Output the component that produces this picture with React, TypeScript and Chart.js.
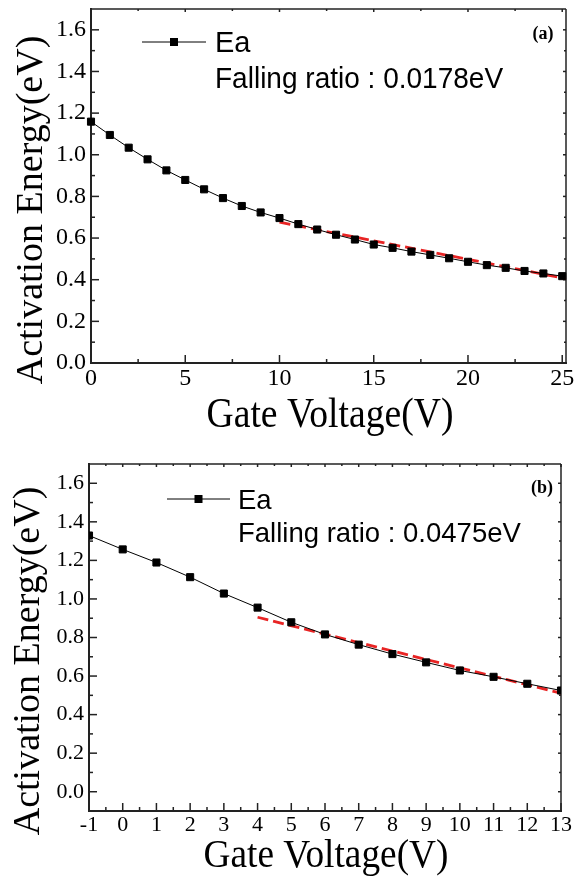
import { useEffect, useRef } from 'react';
import { Chart, registerables } from 'chart.js';

Chart.register(...registerables);

// Panel (a): activation energy vs gate voltage, 0–25 V
const voltageA = [0, 1, 2, 3, 4, 5, 6, 7, 8, 9, 10, 11, 12, 13, 14, 15, 16, 17, 18, 19, 20, 21, 22, 23, 24, 25];
const energyA = [1.159, 1.095, 1.034, 0.978, 0.925, 0.879, 0.834, 0.792, 0.754, 0.723, 0.696, 0.667, 0.641, 0.616, 0.593, 0.569, 0.553, 0.535, 0.519, 0.503, 0.486, 0.47, 0.457, 0.442, 0.43, 0.417];
const fitVoltageA = [10, 25.2];
const fitEnergyA = [0.676, 0.405];

// Panel (b): activation energy vs gate voltage, -1–13 V
const voltageB = [-1, 0, 1, 2, 3, 4, 5, 6, 7, 8, 9, 10, 11, 12, 13];
const energyB = [1.329, 1.257, 1.189, 1.113, 1.028, 0.955, 0.879, 0.816, 0.763, 0.714, 0.671, 0.629, 0.596, 0.56, 0.525];
const fitVoltageB = [4, 13];
const fitEnergyB = [0.905, 0.511];

// Axis ticks
const energyTicks = [0, 0.2, 0.4, 0.6, 0.8, 1.0, 1.2, 1.4, 1.6];
const energyMinorTicks = [0.1, 0.3, 0.5, 0.7, 0.9, 1.1, 1.3, 1.5];
const voltageTicksA = [0, 5, 10, 15, 20, 25];
const voltageMinorTicksA = [2.5, 7.5, 12.5, 17.5, 22.5];
const voltageTicksB = [-1, 0, 1, 2, 3, 4, 5, 6, 7, 8, 9, 10, 11, 12, 13];
const voltageMinorTicksB = [-0.5, 0.5, 1.5, 2.5, 3.5, 4.5, 5.5, 6.5, 7.5, 8.5, 9.5, 10.5, 11.5, 12.5];

// Text
const seriesName = 'Ea';
const ratioTextA = 'Falling ratio : 0.0178eV';
const ratioTextB = 'Falling ratio : 0.0475eV';
const xTitle = 'Gate Voltage(V)';
const yTitle = 'Activation Energy(eV)';

type PanelCfg = {
  tag: string;
  ratioText: string;
  xs: number[];
  ys: number[];
  fitX: number[];
  fitY: number[];
  xMin: number;
  xMax: number;
  yMin: number;
  yMax: number;
  xTicks: number[];
  xMinor: number[];
  height: number;
  plot: { left: number; right: number; top: number; bottom: number };
  tickFont: number;
  clipPoints: boolean;
  legend: { lineX0: number; lineX1: number; lineY: number; textX: number; base1: number; base2: number; font: number; squeeze: number };
  tagPos: { x: number; y: number };
  yTitlePos: { x: number; y: number; font: number };
  xTitlePos: { x: number; y: number; font: number; squeeze: number };
};

const panels: PanelCfg[] = [
  {
    tag: '(a)',
    ratioText: ratioTextA,
    xs: voltageA,
    ys: energyA,
    fitX: fitVoltageA,
    fitY: fitEnergyA,
    xMin: 0,
    xMax: 25.2,
    yMin: 0,
    yMax: 1.7,
    xTicks: voltageTicksA,
    xMinor: voltageMinorTicksA,
    height: 440,
    plot: { left: 91, right: 566, top: 9, bottom: 363 },
    tickFont: 24,
    clipPoints: false,
    legend: { lineX0: 142, lineX1: 206, lineY: 42, textX: 215, base1: 52, base2: 88, font: 29, squeeze: 0.966 },
    tagPos: { x: 543, y: 34 },
    yTitlePos: { x: 42, y: 210, font: 38 },
    xTitlePos: { x: 330, y: 427, font: 43, squeeze: 0.875 },
  },
  {
    tag: '(b)',
    ratioText: ratioTextB,
    xs: voltageB,
    ys: energyB,
    fitX: fitVoltageB,
    fitY: fitEnergyB,
    xMin: -1,
    xMax: 13,
    yMin: -0.1,
    yMax: 1.7,
    xTicks: voltageTicksB,
    xMinor: voltageMinorTicksB,
    height: 445,
    plot: { left: 89, right: 561, top: 24, bottom: 371 },
    tickFont: 22,
    clipPoints: true,
    legend: { lineX0: 167, lineX1: 230, lineY: 59, textX: 238, base1: 69, base2: 102, font: 27.5, squeeze: 1 },
    tagPos: { x: 542, y: 48 },
    yTitlePos: { x: 39, y: 221, font: 38 },
    xTitlePos: { x: 326, y: 427, font: 41, squeeze: 0.91 },
  },
];

const AXIS = '#222';

function makeDecor(cfg: PanelCfg) {
  return {
    id: 'panelDecor',
    beforeDatasetsDraw(chart: any) {
      const { ctx, chartArea: a, scales } = chart;
      const xs = scales.x;
      const ys = scales.y;
      ctx.save();
      ctx.strokeStyle = AXIS;
      ctx.lineWidth = 1.5;
      const seg = (x1: number, y1: number, x2: number, y2: number) => {
        ctx.beginPath();
        ctx.moveTo(x1, y1);
        ctx.lineTo(x2, y2);
        ctx.stroke();
      };
      cfg.xTicks.forEach((v) => {
        const px = xs.getPixelForValue(v);
        seg(px, a.bottom, px, a.bottom - 8);
        seg(px, a.top, px, a.top + 3);
      });
      cfg.xMinor.forEach((v) => {
        const px = xs.getPixelForValue(v);
        seg(px, a.bottom, px, a.bottom - 4);
        seg(px, a.top, px, a.top + 2);
      });
      energyTicks.forEach((v) => {
        const py = ys.getPixelForValue(v);
        seg(a.left, py, a.left + 8, py);
        seg(a.right, py, a.right - 3, py);
      });
      energyMinorTicks.forEach((v) => {
        const py = ys.getPixelForValue(v);
        seg(a.left, py, a.left + 4, py);
        seg(a.right, py, a.right - 2, py);
      });
      // frame
      ctx.lineWidth = 1.5;
      seg(a.left, a.top, a.right, a.top);
      seg(a.right, a.top, a.right, a.bottom);
      ctx.lineWidth = 2;
      seg(a.left, a.top - 1, a.left, a.bottom + 1);
      seg(a.left - 1, a.bottom, a.right + 1, a.bottom);
      ctx.restore();
    },
    afterDraw(chart: any) {
      const { ctx } = chart;
      const L = cfg.legend;
      ctx.save();
      // legend sample
      ctx.strokeStyle = '#000';
      ctx.lineWidth = 1;
      ctx.beginPath();
      ctx.moveTo(L.lineX0, L.lineY);
      ctx.lineTo(L.lineX1, L.lineY);
      ctx.stroke();
      ctx.fillStyle = '#000';
      const mx = (L.lineX0 + L.lineX1) / 2;
      ctx.fillRect(mx - 4, L.lineY - 4, 8, 8);
      ctx.font = `${L.font}px "Liberation Sans", Arial, sans-serif`;
      ctx.textAlign = 'left';
      ctx.textBaseline = 'alphabetic';
      ctx.fillText(seriesName, L.textX, L.base1);
      ctx.save();
      ctx.translate(L.textX, L.base2);
      ctx.scale(L.squeeze, 1);
      ctx.fillText(cfg.ratioText, 0, 0);
      ctx.restore();
      // panel tag
      ctx.font = 'bold 18px "Liberation Serif", "Times New Roman", serif';
      ctx.textAlign = 'center';
      ctx.textBaseline = 'middle';
      ctx.fillText(cfg.tag, cfg.tagPos.x, cfg.tagPos.y);
      // axis titles
      ctx.textBaseline = 'alphabetic';
      ctx.save();
      ctx.translate(cfg.yTitlePos.x, cfg.yTitlePos.y);
      ctx.rotate(-Math.PI / 2);
      ctx.font = `${cfg.yTitlePos.font}px "Liberation Serif", "Times New Roman", serif`;
      ctx.fillText(yTitle, 0, 0);
      ctx.restore();
      ctx.save();
      ctx.translate(cfg.xTitlePos.x, cfg.xTitlePos.y);
      ctx.scale(cfg.xTitlePos.squeeze, 1);
      ctx.font = `${cfg.xTitlePos.font}px "Liberation Serif", "Times New Roman", serif`;
      ctx.fillText(xTitle, 0, 0);
      ctx.restore();
      ctx.restore();
    },
  };
}

function Panel({ cfg, top }: { cfg: PanelCfg; top: number }) {
  const ref = useRef<HTMLCanvasElement | null>(null);

  useEffect(() => {
    if (!ref.current) return;
    const tickFont = { family: '"Liberation Serif", "Times New Roman", serif', size: cfg.tickFont };
    const chart = new Chart(ref.current, {
      type: 'line',
      data: {
        datasets: [
          {
            label: seriesName,
            data: cfg.xs.map((x, i) => ({ x, y: cfg.ys[i] })),
            borderColor: '#000',
            borderWidth: 1,
            backgroundColor: '#000',
            pointStyle: 'rect',
            pointRadius: 5,
            pointBorderWidth: 1,
            pointBorderColor: '#000',
            pointBackgroundColor: '#000',
            tension: 0,
            clip: cfg.clipPoints ? undefined : false,
          } as any,
          {
            label: 'fit',
            data: cfg.fitX.map((x, i) => ({ x, y: cfg.fitY[i] })),
            borderColor: 'rgb(232, 36, 36)',
            borderWidth: 2.8,
            borderDash: [11, 5],
            pointRadius: 0,
            tension: 0,
          },
        ],
      },
      options: {
        responsive: false,
        animation: false,
        devicePixelRatio: 1,
        layout: {
          padding: { left: 0, top: cfg.plot.top, right: 575 - cfg.plot.right, bottom: 0 },
        },
        plugins: {
          legend: { display: false },
          tooltip: { enabled: false },
        },
        scales: {
          x: {
            type: 'linear',
            min: cfg.xMin,
            max: cfg.xMax,
            grid: { display: false, drawTicks: false },
            border: { display: false },
            afterBuildTicks: (s: any) => {
              s.ticks = cfg.xTicks.map((value) => ({ value }));
            },
            afterFit: (s: any) => {
              s.height = cfg.height - cfg.plot.bottom;
              s.paddingLeft = 0;
              s.paddingRight = 0;
            },
            ticks: {
              color: '#000',
              font: tickFont,
              padding: 1,
              maxRotation: 0,
              autoSkip: false,
              callback: (v: any) => String(v),
            },
          },
          y: {
            type: 'linear',
            min: cfg.yMin,
            max: cfg.yMax,
            grid: { display: false, drawTicks: false },
            border: { display: false },
            afterBuildTicks: (s: any) => {
              s.ticks = energyTicks.map((value) => ({ value }));
            },
            afterFit: (s: any) => {
              s.width = cfg.plot.left;
              s.paddingTop = 0;
              s.paddingBottom = 0;
            },
            ticks: {
              color: '#000',
              font: tickFont,
              padding: 5,
              autoSkip: false,
              callback: (v: any) => Number(v).toFixed(1),
            },
          },
        },
      },
      plugins: [makeDecor(cfg)],
    });
    return () => chart.destroy();
  }, [cfg]);

  return (
    <div style={{ position: 'absolute', left: 0, top, width: 575, height: cfg.height }}>
      <canvas ref={ref} width={575} height={cfg.height} style={{ display: 'block' }} />
    </div>
  );
}

export default function App() {
  return (
    <div style={{ position: 'absolute', left: 0, top: 0, width: 575, height: 885, background: '#fff' }}>
      <Panel cfg={panels[0]} top={0} />
      <Panel cfg={panels[1]} top={440} />
    </div>
  );
}
